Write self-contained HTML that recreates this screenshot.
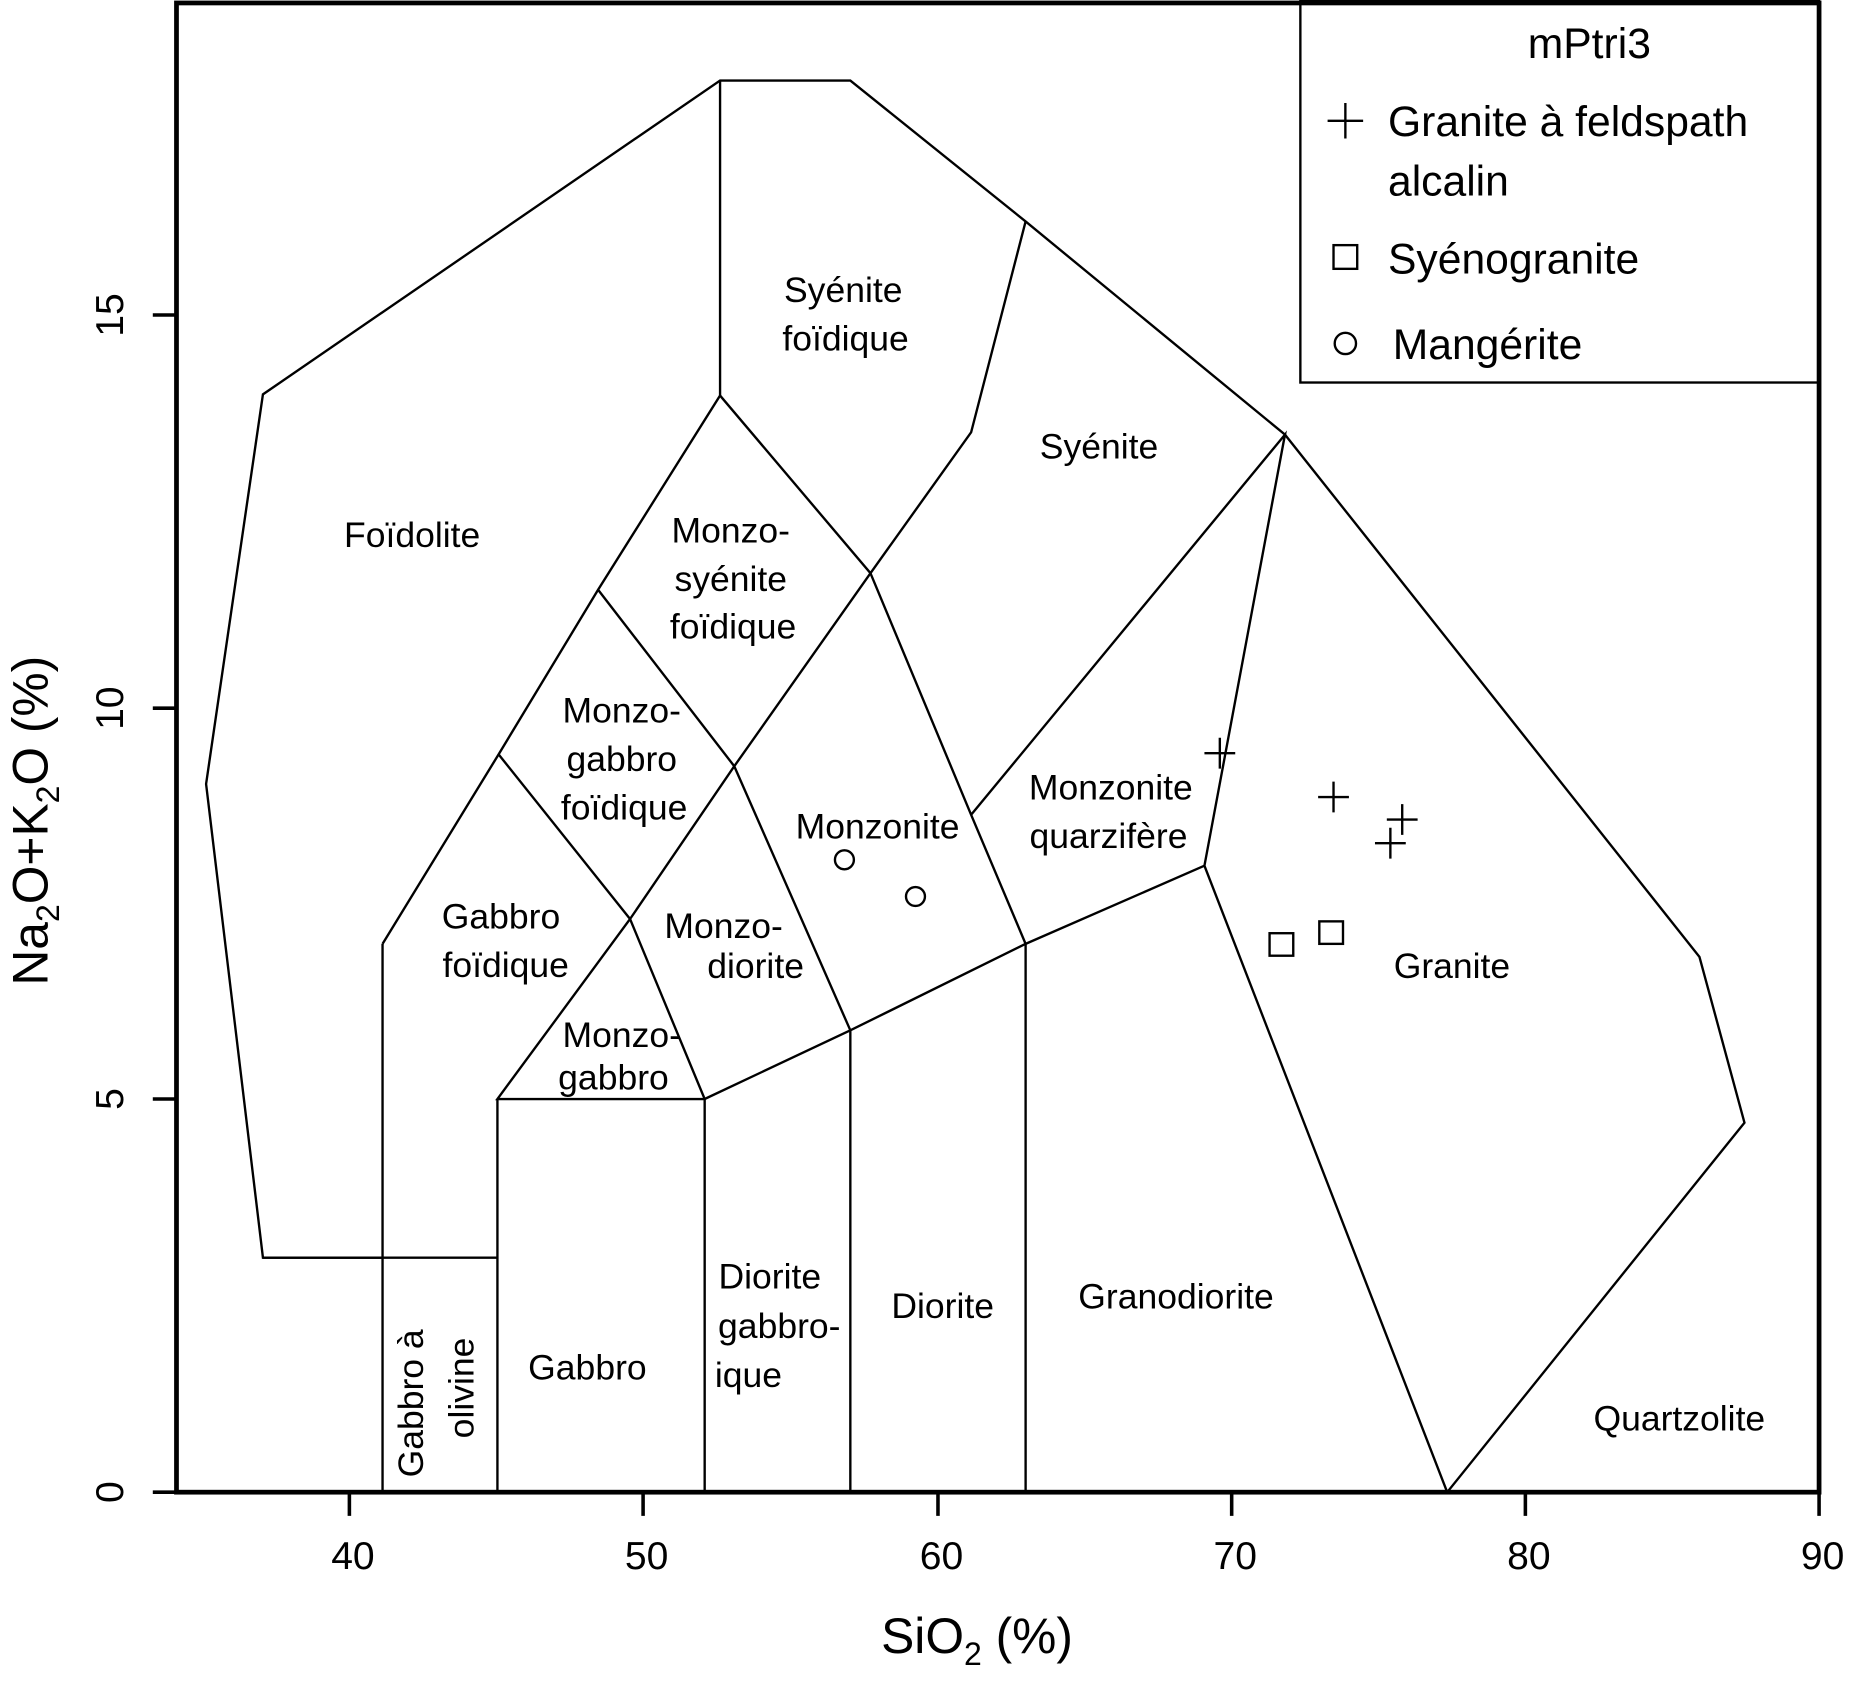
<!DOCTYPE html>
<html><head><meta charset="utf-8"><style>html,body{margin:0;padding:0;background:#fff}svg{display:block}</style></head>
<body>
<svg width="1857" height="1687" viewBox="0 0 1568 1424.5" xmlns="http://www.w3.org/2000/svg" font-family="Liberation Sans, sans-serif">
<rect x="0" y="0" width="1568" height="1424.5" fill="#fff"/>
<g fill="none" stroke="#000" stroke-width="2">
<polyline points="323,1260 323,1062 222,1062 174,662 222,333 608,68 718,68 866,187 1085,367 1435,808 1473,948 1222,1260"/>
<line x1="222" y1="1062" x2="420" y2="1062"/>
<line x1="323" y1="1062" x2="323" y2="797"/>
<line x1="420" y1="928" x2="420" y2="1260"/>
<polyline points="323,797 421,637 505,498 608,334 608,68"/>
<polyline points="608,334 735,484 820,365 866,187"/>
<polyline points="735,484 620,647 532,776 420,928 595,928"/>
<polyline points="505,498 620,647 718,870 718,1260"/>
<polyline points="421,637 532,776 595,928 595,1260"/>
<polyline points="735,484 820,688 866,797 866,1260"/>
<polyline points="820,688 1085,367 1017,731 1222,1260"/>
<polyline points="595,928 718,870 866,797 1017,731"/>
</g>
<g font-size="30" text-anchor="middle">
<text x="712" y="255">Syénite</text><text x="714" y="296">foïdique</text>
<text x="928" y="387">Syénite</text>
<text x="348" y="462">Foïdolite</text>
<text x="617" y="458">Monzo-</text><text x="617" y="499">syénite</text><text x="619" y="539">foïdique</text>
<text x="525" y="610">Monzo-</text><text x="525" y="651">gabbro</text><text x="527" y="692">foïdique</text>
<text x="741" y="708">Monzonite</text>
<text x="938" y="675">Monzonite</text><text x="936" y="716">quarzifère</text>
<text x="423" y="784">Gabbro</text><text x="427" y="825">foïdique</text>
<text x="611" y="792">Monzo-</text><text x="638" y="826">diorite</text>
<text x="525" y="884">Monzo-</text><text x="518" y="920">gabbro</text>
<text x="1226" y="826">Granite</text>
<text x="650" y="1088">Diorite</text><text x="658" y="1130">gabbro-</text><text x="632" y="1171">ique</text>
<text x="796" y="1113">Diorite</text>
<text x="993" y="1105">Granodiorite</text>
<text x="496" y="1165">Gabbro</text>
<text x="1418" y="1208">Quartzolite</text>
<text transform="translate(357,1185) rotate(-90)">Gabbro à</text>
<text transform="translate(400,1172) rotate(-90)">olivine</text>
</g>
<g fill="none" stroke="#000" stroke-width="2">
<path d="M1017,636h26M1030,623v26M1113,673h26M1126,660v26M1171,692h26M1184,679v26M1161,712h26M1174,699v26"/>
<rect x="1072" y="788" width="20" height="19"/><rect x="1114" y="778" width="20" height="19"/>
<circle cx="713" cy="726" r="8"/><circle cx="773" cy="757" r="8"/>
</g>
<rect x="1098" y="1" width="438" height="322" fill="#fff" stroke="#000" stroke-width="2"/>
<g font-size="36">
<text x="1342" y="49" text-anchor="middle">mPtri3</text>
<text x="1172" y="115">Granite à feldspath</text>
<text x="1172" y="165">alcalin</text>
<text x="1172" y="231">Syénogranite</text>
<text x="1176" y="303">Mangérite</text>
</g>
<g fill="none" stroke="#000" stroke-width="2">
<path d="M1121,102h30M1136,87v30"/><rect x="1126" y="207" width="20" height="20"/><circle cx="1136" cy="290" r="9"/>
</g>
<rect x="149" y="2.5" width="1387" height="1257.5" fill="none" stroke="#000" stroke-width="4"/>
<g stroke="#000" stroke-width="3">
<path d="M149,266h-20M149,598h-20M149,928h-20M149,1260h-20"/>
<path d="M295,1260v20M543,1260v20M792,1260v20M1040,1260v20M1288,1260v20M1536,1260v20"/>
</g>
<g font-size="33" text-anchor="middle">
<text x="298" y="1325">40</text><text x="546" y="1325">50</text><text x="795" y="1325">60</text>
<text x="1043" y="1325">70</text><text x="1291" y="1325">80</text><text x="1539" y="1325">90</text>
<text transform="translate(104,266) rotate(-90)">15</text>
<text transform="translate(104,598) rotate(-90)">10</text>
<text transform="translate(104,928) rotate(-90)">5</text>
<text transform="translate(104,1260) rotate(-90)">0</text>
</g>
<text x="825" y="1396" font-size="42" text-anchor="middle">SiO<tspan font-size="27" dy="10">2</tspan><tspan dy="-10"> (%)</tspan></text>
<text transform="translate(40,693) rotate(-90)" font-size="42" text-anchor="middle">Na<tspan font-size="27" dy="10">2</tspan><tspan dy="-10">O+K</tspan><tspan font-size="27" dy="10">2</tspan><tspan dy="-10">O (%)</tspan></text>
</svg>
</body></html>
